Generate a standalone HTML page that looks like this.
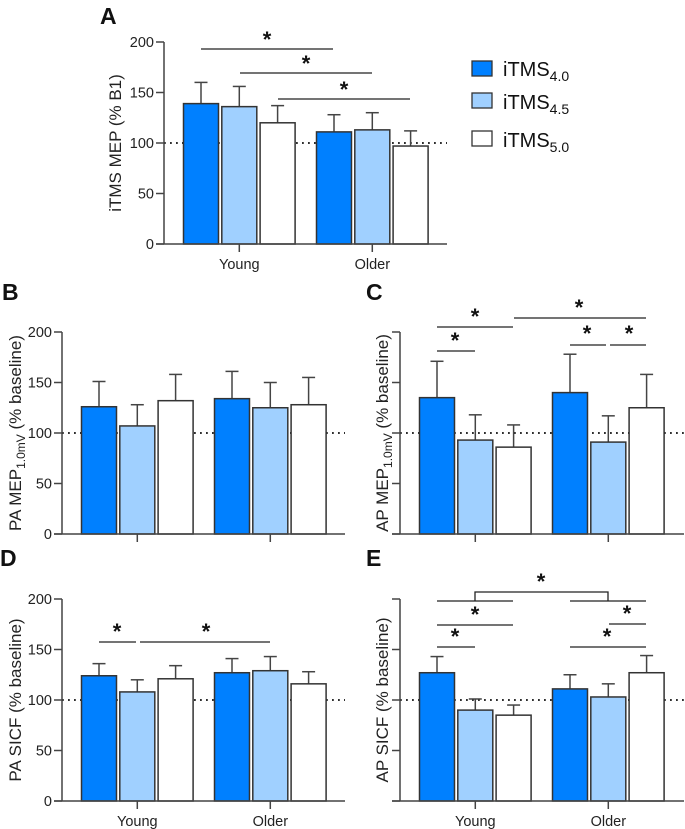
<!DOCTYPE html>
<html><head><meta charset="utf-8"><style>
html,body{margin:0;padding:0;background:#fff;}
svg{display:block;font-family:"Liberation Sans",Arial,sans-serif;}
</style></head><body>
<svg id="fig" width="685" height="829" viewBox="0 0 685 829">
<g>
 <g><rect x="472" y="61" width="20" height="15" fill="#0080ff" stroke="#333" stroke-width="1.3"/><text x="503" y="76" font-size="20" fill="#111">iTMS<tspan font-size="14" dy="5">4.0</tspan></text></g>
 <g><rect x="472" y="93" width="20" height="15" fill="#a0d0ff" stroke="#333" stroke-width="1.3"/><text x="503" y="109" font-size="20" fill="#111">iTMS<tspan font-size="14" dy="5">4.5</tspan></text></g>
 <g><rect x="472" y="131" width="20" height="15" fill="#fff" stroke="#333" stroke-width="1.3"/><text x="503" y="147" font-size="20" fill="#111">iTMS<tspan font-size="14" dy="5">5.0</tspan></text></g>
</g>
</svg>
<script>
// data
const groups = ["Young","Older"];
const series = ["iTMS4.0","iTMS4.5","iTMS5.0"];
const yTicks = [0,50,100,150,200];
const aMean = [139,136,120,111,113,97];
const aErr  = [160,156,137,128,130,112];
const bMean = [126,107,132,134,125,128];
const bErr  = [151,128,158,161,150,155];
const cMean = [135,93,86,140,91,125];
const cErr  = [171,118,108,178,117,158];
const dMean = [124,108,121,127,129,116];
const dErr  = [136,120,134,141,143,128];
const eMean = [127,90,85,111,103,127];
const eErr  = [143,101,95,125,116,144];

const svg = document.getElementById('fig');
const NS = "http://www.w3.org/2000/svg";
const fills = ["#0080ff","#a0d0ff","#ffffff"];
function mk(tag, attrs, parent){const e=document.createElementNS(NS,tag);for(const k in attrs)e.setAttribute(k,attrs[k]);(parent||svg).appendChild(e);return e;}

const panels = [
 {id:"a",letter:"A",lx:100,ly:24,ax:164,y0:244,y200:42,xend:447,mean:aMean,err:aErr,tickLabels:true,xLabels:true,title:"iTMS MEP (% B1)",titleSub:null,tx:115},
 {id:"b",letter:"B",lx:2,ly:300,ax:62,y0:534,y200:332,xend:345,mean:bMean,err:bErr,tickLabels:true,xLabels:false,title:"PA MEP",titleSub:"1.0mV",titleEnd:" (% baseline)",tx:15},
 {id:"c",letter:"C",lx:366,ly:300,ax:400,y0:534,y200:332,xend:684,mean:cMean,err:cErr,tickLabels:false,xLabels:false,title:"AP MEP",titleSub:"1.0mV",titleEnd:" (% baseline)",tx:382},
 {id:"d",letter:"D",lx:0,ly:566,ax:62,y0:801,y200:599,xend:345,mean:dMean,err:dErr,tickLabels:true,xLabels:true,title:"PA SICF (% baseline)",titleSub:null,tx:15},
 {id:"e",letter:"E",lx:366,ly:566,ax:400,y0:801,y200:599,xend:684,mean:eMean,err:eErr,tickLabels:false,xLabels:true,title:"AP SICF (% baseline)",titleSub:null,tx:382}
];

panels.forEach(p=>{
 const g = mk('g',{});
 
 
 const y = v => p.y0 - (v/200)*(p.y0-p.y200);
 const barX = i => p.ax + 19.5 + Math.floor(i/3)*133 + (i%3)*38.3;
 const lab = mk('text',{x:p.lx,y:p.ly,'font-size':23,'font-weight':'bold',fill:'#111'},g);
 lab.textContent=p.letter;
 
 
 const dl = mk('line',{x1:p.ax,x2:p.xend,y1:y(100),y2:y(100),stroke:'#111','stroke-width':1.8,'stroke-dasharray':'1.8,4.2'},g);
 
 
 p.mean.forEach((m,i)=>{
  const x = barX(i);
  const eb = mk('line',{x1:x+17.5,x2:x+17.5,y1:y(m),y2:y(p.err[i]),stroke:'#444','stroke-width':1.5},g);
  
  
  const cap = mk('line',{x1:x+11,x2:x+24,y1:y(p.err[i]),y2:y(p.err[i]),stroke:'#444','stroke-width':1.5},g);
  
  
  const r = mk('rect',{x:x,y:y(m),width:35,height:y(0)-y(m),fill:fills[i%3],stroke:'#333','stroke-width':1.5},g);
  
  
 });
 const ya = mk('line',{x1:p.ax,x2:p.ax,y1:y(200),y2:y(0),stroke:'#444','stroke-width':1.5},g);
 
 
 const xa = mk('line',{x1:p.ax-8,x2:p.xend,y1:y(0),y2:y(0),stroke:'#444','stroke-width':1.5},g);
 
 
 yTicks.forEach(t=>{
  mk('line',{x1:p.ax-8,x2:p.ax,y1:y(t),y2:y(t),stroke:'#444','stroke-width':1.5},g);
  if(p.tickLabels){
   const tl = mk('text',{x:p.ax-10,y:y(t)+5,'font-size':14.5,'text-anchor':'end',fill:'#222'},g);
   tl.textContent=t;
   
   
  }
 });
 groups.forEach((gn,gi)=>{
  const cx = p.ax + 19.5 + gi*133 + 38.3 + 17.5;
  mk('line',{x1:cx,x2:cx,y1:y(0),y2:y(0)+8,stroke:'#444','stroke-width':1.5},g);
  if(p.xLabels){
   const xl = mk('text',{x:cx,y:y(0)+25,'font-size':14.5,'text-anchor':'middle',fill:'#222'},g);
   xl.textContent=gn;
   
   
  }
 });
 const cy=(y(0)+y(200))/2;
 const tt = mk('text',{x:p.tx,y:cy,'font-size':17,'text-anchor':'middle',fill:'#222',transform:`rotate(-90 ${p.tx} ${cy})`,dy:6},g);
 
 
 if(p.titleSub){
  tt.appendChild(document.createTextNode(p.title));
  const s=mk('tspan',{'font-size':12,dy:4},tt); s.textContent=p.titleSub;
  const e=mk('tspan',{dy:-4},tt); e.textContent=p.titleEnd;
 } else tt.textContent=p.title;
});

function sig(x1,x2,yy,sx,sy,name){
 const l=mk('line',{x1:x1,x2:x2,y1:yy,y2:yy,stroke:'#222','stroke-width':1.3});
 
 
 if(sx!==null){
  const t=mk('text',{x:sx,y:sy+10,'font-size':22,'font-weight':'bold','text-anchor':'middle',fill:'#111'});
  t.textContent='*';
  
  
 }
}
sig(201,333,49,267,37,'sig-a-1');
sig(240,372,73,306,61,'sig-a-2');
sig(278,410,99,344,87,'sig-a-3');
sig(437,513,327,475,314,'sig-c-1');
sig(437,475,351,455,338,'sig-c-2');
sig(514,646,318,579,305,'sig-c-3');
sig(570,606,345,587,331,'sig-c-4');
sig(610,646,345,629,331,'sig-c-5');
sig(99,136,642,117,629,'sig-d-1');
sig(140,270,642,206,629,'sig-d-2');
sig(437,513,601,null,null,'sig-e-young-pair');
sig(570,646,601,null,null,'sig-e-older-pair');
const br=mk('path',{d:'M475 601 V592 H608 V601',fill:'none',stroke:'#222','stroke-width':1.3});


sig(541,541,592,541,579,'sig-e-1');
sig(437,513,625,475,612,'sig-e-2');
sig(609,646,624,627,611,'sig-e-3');
sig(437,475,647,455,634,'sig-e-4');
sig(570,646,647,607,634,'sig-e-5');
</script>
</body></html>
